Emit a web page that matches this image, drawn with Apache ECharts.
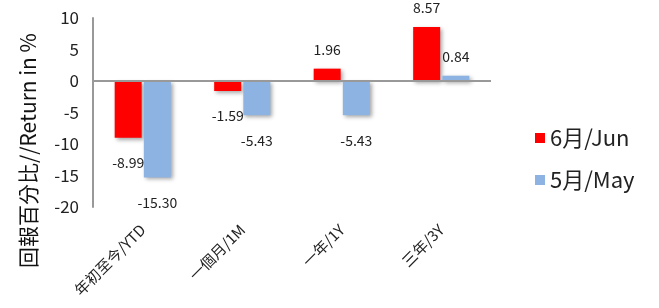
<!DOCTYPE html>
<html><head><meta charset="utf-8">
<script src="https://cdn.jsdelivr.net/npm/echarts@6/dist/echarts.min.js"></script>
<style>html,body{margin:0;padding:0;background:#fff}#c{width:659px;height:308px}</style>
</head><body><div id="c"></div>
<script>
const categories = ['年初至今/YTD', '一個月/1M', '一年/1Y', '三年/3Y'];
const junValues = [-8.99, -1.59, 1.96, 8.57];
const mayValues = [-15.30, -5.43, -5.43, 0.84];
const seriesNames = ['6月/Jun', '5月/May'];
const yAxisName = '回報百分比//Return in %';

const font = "'Noto Sans CJK TC', 'Noto Sans', sans-serif";
function toData(vals) {
  return vals.map(v => ({
    value: v,
    label: { position: v < 0 ? 'bottom' : 'top', distance: v < 0 ? 18 : 12 }
  }));
}
const chart = echarts.init(document.getElementById('c'), null, { renderer: 'canvas' });
const common = {
  type: 'bar', barWidth: 27, barGap: '8%',
  label: { show: true, formatter: p => p.value.toFixed(2), color: '#222', fontSize: 14, fontFamily: font },
};
chart.setOption({
  animation: false,
  textStyle: { fontFamily: font },
  grid: { left: 93, right: 168, top: 18, bottom: 101, containLabel: false },
  legend: {
    orient: 'vertical', left: 530, top: 122, itemWidth: 10, itemHeight: 10, itemGap: 20,
    icon: 'rect', textStyle: { fontSize: 22, color: '#222', fontFamily: font },
    data: seriesNames
  },
  xAxis: {
    type: 'category', data: categories,
    axisLine: { show: false, onZero: false }, axisTick: { show: false },
    axisLabel: { rotate: 45, margin: 20, fontSize: 15, color: '#222', fontFamily: font, interval: 0 }
  },
  yAxis: {
    type: 'value', min: -20, max: 10, interval: 5,
    axisLine: { show: true, lineStyle: { color: '#999', width: 2 } },
    axisTick: { show: false }, splitLine: { show: false },
    axisLabel: { fontSize: 17, color: '#222', margin: 14, fontFamily: font },
    name: yAxisName, nameLocation: 'middle', nameGap: 54,
    nameTextStyle: { fontSize: 21, color: '#111', fontFamily: font, padding: [0, 76, 0, 0] }
  },
  series: [
    Object.assign({}, common, {
      name: seriesNames[0], data: toData(junValues),
      itemStyle: { color: '#FF0000', shadowColor: 'rgba(0,0,0,0.35)', shadowBlur: 4, shadowOffsetX: 2, shadowOffsetY: 2 },
      markLine: { silent: true, symbol: 'none', label: { show: false },
        lineStyle: { color: '#999', width: 2, type: 'solid' }, data: [{ yAxis: 0 }] }
    }),
    Object.assign({}, common, {
      name: seriesNames[1], data: toData(mayValues),
      itemStyle: { color: '#8DB3E2', shadowColor: 'rgba(0,0,0,0.35)', shadowBlur: 4, shadowOffsetX: 2, shadowOffsetY: 2 }
    })
  ]
});
</script></body></html>
